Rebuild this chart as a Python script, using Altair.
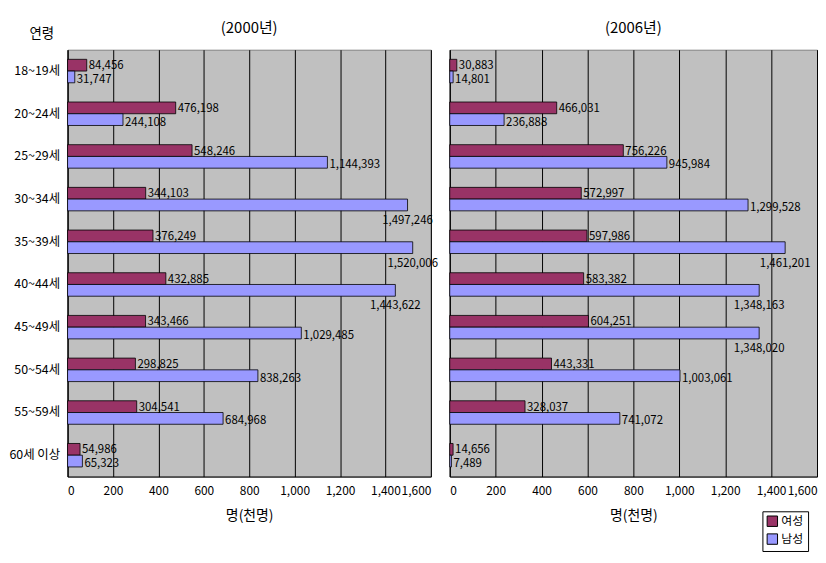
import altair as alt
import pandas as pd

ages = ["18~19세", "20~24세", "25~29세", "30~34세", "35~39세",
        "40~44세", "45~49세", "50~54세", "55~59세", "60세 이상"]
female_2000 = [84456, 476198, 548246, 344103, 376249, 432885, 343466, 298825, 304541, 54986]
male_2000 = [31747, 244108, 1144393, 1497246, 1520006, 1443622, 1029485, 838263, 684968, 65323]
female_2006 = [30883, 466031, 756226, 572997, 597986, 583382, 604251, 443331, 328037, 14656]
male_2006 = [14801, 236888, 945984, 1299528, 1461201, 1348163, 1348020, 1003061, 741072, 7489]
sexes = ["여성", "남성"]
colors = ["#993366", "#9999FF"]
ticks = [0, 200, 400, 600, 800, 1000, 1200, 1400, 1600]
age_title = ["연령"]

FONT = "Noto Sans CJK KR"


def make_df(f, m):
    rows = []
    for a, fv, mv in zip(ages, f, m):
        rows.append({"age": a, "sex": "여성", "value": fv})
        rows.append({"age": a, "sex": "남성", "value": mv})
    return pd.DataFrame(rows)


def panel(df, title, first, width):
    base = alt.Chart(df).transform_calculate(
        k="datum.value / 1000",
        lab="format(datum.value, ',')"
    )
    x = alt.X("k:Q", scale=alt.Scale(domain=[0, 1600], nice=False, zero=True),
              axis=alt.Axis(values=ticks, format=",d", title="명(천명)", grid=True,
                            gridColor="black", gridOpacity=1, gridWidth=1,
                            domainColor="black", ticks=False, labelPadding=9,
                            labelFontSize=12, titleFontSize=14, titleFontWeight="normal",
                            titlePadding=12, labelFont=FONT, titleFont=FONT,
                            labelColor="black", titleColor="black"))
    if first:
        yaxis = alt.Axis(title=None, labelFontSize=12.5, labelPadding=8,
                         ticks=False, domainColor="black", labelFont=FONT,
                         labelColor="black")
    else:
        yaxis = alt.Axis(title=None, labels=False, ticks=False, domainColor="black")
    y = alt.Y("age:N", sort=ages,
              scale=alt.Scale(paddingInner=0.45, paddingOuter=0.225), axis=yaxis)
    yo = alt.YOffset("sex:N", sort=sexes)
    bars = base.mark_bar(stroke="black", strokeWidth=0.8).encode(
        x=x, y=y, yOffset=yo,
        color=alt.Color("sex:N", sort=sexes,
                        scale=alt.Scale(domain=sexes, range=colors),
                        legend=alt.Legend(title=None))
    )
    inline_f = base.transform_filter(
        "datum.value < 1340000 && datum.sex == '여성'").mark_text(
        align="left", baseline="middle", dx=2, dy=1, fontSize=11.5, font=FONT, color="black"
    ).encode(x=x, y=y, yOffset=yo, text="lab:N")
    inline_m = base.transform_filter(
        "datum.value < 1340000 && datum.sex == '남성'").mark_text(
        align="left", baseline="middle", dx=2, dy=3, fontSize=11.5, font=FONT, color="black"
    ).encode(x=x, y=y, yOffset=yo, text="lab:N")
    below = base.transform_filter("datum.value >= 1340000").mark_text(
        align="center", baseline="middle", dy=16, fontSize=11.5, font=FONT, color="black"
    ).encode(x=x, y=y, yOffset=yo, text="lab:N")
    head = alt.Chart(pd.DataFrame({"t": [title]})).mark_text(
        fontSize=15, font=FONT, color="black", align="center", baseline="middle"
    ).encode(text="t:N", x=alt.value(width / 2), y=alt.value(-22))
    layers = [bars, inline_f, inline_m, below, head]
    if first:
        agehead = alt.Chart(pd.DataFrame({"t": age_title})).mark_text(
            fontSize=13.5, font=FONT, color="black", align="center", baseline="middle"
        ).encode(text="t:N", x=alt.value(-26), y=alt.value(-16))
        layers.append(agehead)
    return alt.layer(*layers).properties(width=width, height=430)


left = panel(make_df(female_2000, male_2000), "(2000년)", True, 366)
right = panel(make_df(female_2006, male_2006), "(2006년)", False, 370)

chart = alt.hconcat(left, right, spacing=10).properties(
    padding={"left": 0, "top": 10, "right": 0, "bottom": 0}
).configure_view(
    fill="#C0C0C0", stroke="#808080", strokeWidth=1
).configure_legend(
    orient="none", legendX=700, legendY=465, strokeColor="black", fillColor="white",
    padding=4, symbolType="square", symbolSize=110, symbolStrokeColor="black",
    symbolStrokeWidth=1, labelFontSize=12, labelFont=FONT, rowPadding=2,
    labelColor="black", symbolOpacity=1, labelOffset=3
)

chart.save("out.html", embed_options={"renderer": "svg", "actions": False})
